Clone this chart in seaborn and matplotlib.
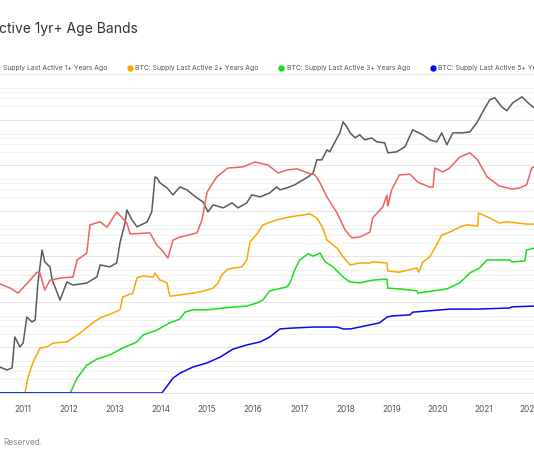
import matplotlib
matplotlib.use("Agg")
import matplotlib.pyplot as plt
import matplotlib.ticker as mticker
from matplotlib.lines import Line2D
import pandas as pd
import seaborn as sns

# ---- data (decimal years) ----
price_t = [2010.51, 2010.66, 2010.77, 2010.83, 2010.94, 2011.01, 2011.09, 2011.20, 2011.27, 2011.33,
           2011.42, 2011.48, 2011.59, 2011.64, 2011.70, 2011.81, 2011.87, 2011.96, 2012.09, 2012.39,
           2012.61, 2012.68, 2012.89, 2013.04, 2013.11, 2013.22, 2013.26, 2013.37, 2013.48, 2013.70,
           2013.80, 2013.87, 2013.91, 2013.98, 2014.13, 2014.26, 2014.41, 2014.56, 2014.78, 2014.91,
           2015.02, 2015.13, 2015.35, 2015.54, 2015.67, 2015.86, 2015.97, 2016.15, 2016.36, 2016.51,
           2016.58, 2016.73, 2016.90, 2017.08, 2017.19, 2017.30, 2017.38, 2017.49, 2017.60, 2017.66,
           2017.82, 2017.88, 2017.95, 2018.03, 2018.10, 2018.21, 2018.31, 2018.42, 2018.57, 2018.68,
           2018.85, 2018.92, 2019.11, 2019.29, 2019.46, 2019.68, 2019.83, 2019.98, 2020.09, 2020.20,
           2020.33, 2020.54, 2020.70, 2020.85, 2020.98, 2021.13, 2021.24, 2021.39, 2021.50, 2021.63,
           2021.83, 2021.96, 2022.09]
price = [0.074, 0.064, 0.071, 0.34, 0.205, 0.25, 0.93, 0.73, 0.80, 5.2,
         27.8, 15.1, 11.8, 6.1, 4.3, 2.2, 3.2, 5.5, 4.7, 5.2,
         7.1, 13.0, 11.8, 14.4, 39.6, 109, 210, 127, 89, 115,
         190, 1117, 1062, 824, 640, 450, 673, 579, 386, 315,
         190, 271, 233, 300, 233, 300, 450, 406, 498, 673,
         579, 640, 745, 960, 1117, 1368, 2640, 2640, 4385, 3960,
         8040, 10350, 18080, 14030, 10350, 8040, 9350, 7260, 8040, 6560,
         6250, 3770, 3960, 5100, 12050, 9350, 7260, 6560, 10350, 5650,
         10350, 10350, 10900, 17200, 30000, 55000, 60900, 38600, 31600, 47300,
         64000, 47300, 36700]

t_1y = [2010.51, 2010.73, 2010.90, 2011.16, 2011.31, 2011.375, 2011.48, 2011.59, 2011.85, 2012.09,
        2012.18, 2012.39, 2012.46, 2012.68, 2012.83, 2013.04, 2013.26, 2013.33, 2013.76, 2013.91,
        2014.04, 2014.15, 2014.26, 2014.41, 2014.78, 2014.89, 2015.00, 2015.21, 2015.45, 2015.78,
        2016.04, 2016.32, 2016.54, 2016.73, 2016.95, 2017.19, 2017.34, 2017.45, 2017.60, 2017.82,
        2017.99, 2018.14, 2018.31, 2018.53, 2018.59, 2018.81, 2018.90, 2018.92, 2019.00, 2019.17,
        2019.40, 2019.57, 2019.83, 2019.90, 2019.94, 2020.11, 2020.26, 2020.48, 2020.70, 2020.87,
        2021.07, 2021.34, 2021.61, 2021.78, 2021.93, 2022.04, 2022.09]
supply_1y = [28.6, 27.5, 26.2, 29.6, 31.7, 31.5, 27.0, 29.6, 30.2, 30.4,
             34.9, 36.7, 44.1, 44.9, 43.5, 47.5, 44.6, 41.7, 42.0, 38.8,
             37.2, 35.4, 40.1, 40.9, 42.0, 45.4, 52.7, 56.7, 59.0, 59.3,
             60.6, 59.8, 57.7, 58.5, 58.8, 57.7, 57.2, 55.1, 51.4, 47.2,
             42.8, 40.7, 40.9, 42.2, 45.9, 48.8, 51.9, 49.0, 53.2, 57.2,
             57.4, 55.3, 54.0, 54.0, 59.0, 58.0, 59.0, 61.9, 63.0, 61.1,
             56.7, 54.3, 53.5, 53.8, 54.6, 59.0, 59.3]

t_2y = [2010.51, 2011.05, 2011.11, 2011.22, 2011.375, 2011.53, 2011.66, 2011.96, 2012.24, 2012.52,
        2012.68, 2012.96, 2013.11, 2013.17, 2013.39, 2013.48, 2013.61, 2013.83, 2013.87, 2013.98,
        2014.13, 2014.19, 2014.41, 2014.84, 2015.13, 2015.24, 2015.32, 2015.45, 2015.76, 2015.86,
        2015.93, 2016.10, 2016.21, 2016.51, 2016.80, 2017.08, 2017.23, 2017.38, 2017.51, 2017.60,
        2017.82, 2017.95, 2018.10, 2018.31, 2018.53, 2018.59, 2018.90, 2018.92, 2019.17, 2019.55,
        2019.59, 2019.68, 2019.83, 2019.94, 2020.09, 2020.26, 2020.48, 2020.63, 2020.87, 2020.89,
        2021.13, 2021.34, 2021.50, 2021.72, 2021.93, 2022.09]
supply_2y = [0, 0, 3.9, 7.9, 11.8, 12.1, 13.1, 13.4, 15.7, 18.4,
             19.7, 21.0, 21.8, 25.2, 26.2, 30.2, 30.7, 30.4, 31.5, 29.6,
             28.9, 25.4, 25.7, 26.5, 27.5, 28.9, 31.0, 32.5, 33.1, 34.9,
             39.6, 42.0, 44.1, 45.4, 46.2, 46.7, 47.0, 45.9, 43.3, 40.1,
             38.0, 35.7, 33.6, 34.1, 34.1, 34.4, 34.1, 32.0, 31.7, 32.8,
             31.7, 34.4, 35.7, 38.0, 41.4, 42.2, 43.5, 44.1, 43.8, 47.2,
             45.9, 44.6, 44.9, 44.6, 44.3, 44.3]

t_3y = [2010.51, 2012.03, 2012.18, 2012.39, 2012.61, 2012.89, 2013.17, 2013.48, 2013.61, 2013.91,
        2014.19, 2014.41, 2014.52, 2014.69, 2015.00, 2015.35, 2015.86, 2016.08, 2016.21, 2016.36,
        2016.73, 2016.80, 2016.90, 2017.01, 2017.19, 2017.30, 2017.45, 2017.56, 2017.73, 2017.95,
        2018.10, 2018.31, 2018.59, 2018.90, 2018.92, 2019.17, 2019.55, 2019.57, 2020.20, 2020.48,
        2020.70, 2020.91, 2021.07, 2021.34, 2021.57, 2021.61, 2021.89, 2021.93, 2022.09]
supply_3y = [0, 0, 3.9, 7.3, 8.9, 10.0, 11.8, 13.4, 15.2, 16.5,
             18.4, 19.4, 21.2, 21.8, 21.8, 22.3, 22.8, 23.6, 24.4, 26.8,
             27.8, 28.9, 32.3, 34.9, 36.5, 35.9, 36.7, 34.4, 33.1, 30.4,
             29.1, 28.9, 29.6, 29.9, 27.5, 27.3, 26.8, 26.2, 27.3, 28.9,
             31.5, 32.8, 34.9, 34.9, 34.9, 34.4, 34.6, 37.5, 38.0]

t_5y = [2010.51, 2014.02, 2014.26, 2014.41, 2014.69, 2015.00, 2015.28, 2015.56, 2015.86, 2016.15,
        2016.36, 2016.58, 2016.80, 2017.30, 2017.82, 2017.95, 2018.10, 2018.31, 2018.74, 2018.90,
        2019.00, 2019.40, 2019.46, 2020.26, 2020.85, 2021.57, 2021.61, 2022.09]
supply_5y = [0, 0, 3.9, 5.2, 6.8, 7.9, 9.4, 11.5, 12.6, 13.4,
             14.7, 16.8, 17.0, 17.3, 17.3, 16.8, 16.8, 17.3, 18.4, 19.9,
             20.2, 20.5, 21.2, 22.0, 22.0, 22.3, 22.6, 22.8]

band_names = ["BTC: Supply Last Active 1+ Years Ago", "BTC: Supply Last Active 2+ Years Ago",
              "BTC: Supply Last Active 3+ Years Ago", "BTC: Supply Last Active 5+ Years Ago"]
band_colors = ["#f06262", "#ffa500", "#16e016", "#0a0af0"]
tick_years = list(range(2011, 2023))

supply = pd.concat([
    pd.DataFrame({"year": t, "pct": v, "band": name})
    for t, v, name in zip([t_1y, t_2y, t_3y, t_5y],
                          [supply_1y, supply_2y, supply_3y, supply_5y], band_names)
])

sns.set_style("white")
plt.rcParams["font.family"] = ["Inter", "DejaVu Sans"]

fig = plt.figure(figsize=(5.34, 4.62), dpi=100)
ax = fig.add_axes([0, 1 - 393 / 462, 1, 305 / 462])
ax2 = ax.twinx()

# price (log scale) on the back axes, with the grid
sns.lineplot(x=price_t, y=price, ax=ax, color="#5a5a5a", lw=1.1)
ax.set_yscale("log")
ax.set_ylim(0.02, 1e5)
ax.yaxis.set_major_locator(mticker.LogLocator(base=10, subs=(2,)))
ax.yaxis.set_minor_locator(mticker.LogLocator(base=10, subs=(1, 4, 6, 8)))
ax.yaxis.grid(True, which="major", color="#e6e6e6", lw=0.8)
ax.yaxis.grid(True, which="minor", color="#f1f1f1", lw=0.8)
ax.xaxis.grid(False)
ax.set_axisbelow(True)

# supply bands on the front axes
sns.lineplot(data=supply, x="year", y="pct", hue="band", palette=band_colors,
             ax=ax2, lw=1.1, legend=False)
ax2.set_ylim(0, 80)

ax.set_xlim(2010.508, 2022.09)
ax.set_xticks(tick_years)
ax.set_xticklabels([str(y) for y in tick_years])
ax.tick_params(axis="x", length=3, color="#e0e0e0", labelsize=6, labelcolor="#555555", pad=6)
ax.tick_params(axis="y", which="both", left=False, right=False, labelleft=False)
ax2.tick_params(axis="y", which="both", left=False, right=False, labelright=False)
for a in (ax, ax2):
    a.set_xlabel("")
    a.set_ylabel("")
    for s in ("top", "left", "right"):
        a.spines[s].set_visible(False)
ax.spines["bottom"].set_color("#e0e0e0")
ax2.spines["bottom"].set_visible(False)

# title (cropped), legend row, footer
fig.text(-0.002, 0.937, "ctive 1yr+ Age Bands", fontsize=10, color="#333333",
         ha="left", va="center")
fig.add_artist(Line2D([0, 1], [0.840, 0.840], color="#ececec", lw=0.8,
                      transform=fig.transFigure))

legend_x = [(None, 0.0056), (0.2434, 0.2528), (0.5262, 0.5375), (0.8109, 0.8202)]
legend_labels = ["Supply Last Active 1+ Years Ago"] + band_names[1:]
for (dot_x, txt_x), label, c in zip(legend_x, legend_labels, band_colors):
    if dot_x is not None:
        fig.add_artist(Line2D([dot_x], [0.853], marker="o", ms=3.6, color=c, lw=0,
                              transform=fig.transFigure))
    fig.text(txt_x, 0.853, label, fontsize=4.9, color="#555555", ha="left", va="center")

fig.text(0.0056, 0.043, "Reserved.", fontsize=6, color="#8a8a8a", ha="left", va="center")

fig.savefig("out.png", dpi=100)
